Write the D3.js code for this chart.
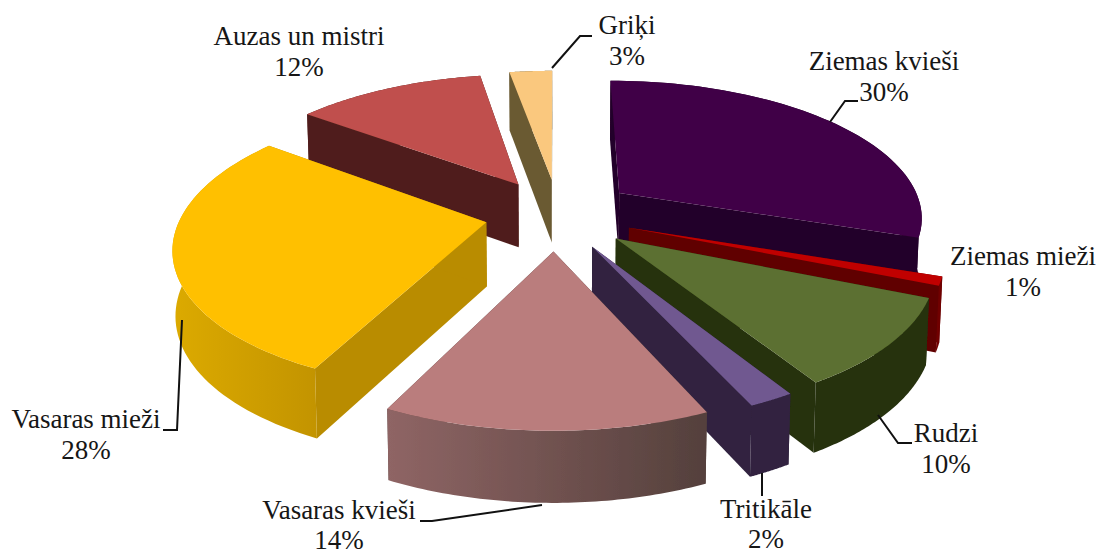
<!DOCTYPE html>
<html><head><meta charset="utf-8">
<script src="https://cdn.jsdelivr.net/npm/d3@7"></script>
<style>html,body{margin:0;padding:0;background:#fff}svg{display:block}</style>
</head><body><svg id="c" width="1097" height="555"></svg>
<script>
const categories=["Ziemas kvieši","Ziemas mieži","Rudzi","Tritikāle","Vasaras kvieši","Vasaras mieži","Auzas un mistri","Griķi"];
const percentLabels=[30,1,10,2,14,28,12,3];
const values=[30.3,1,10,2,14,28,12,2.7];
const explode=[83,78,78,77,78,70,80,82];
const explodeTurn=[-2,0,0,0,0,0,3,2.5];
const topColors=["#3f0046","#c00000","#5c7030","#705890","#ba7d7d","#ffc000","#c0504d","#fac87e"];
const wallColors=["#240029","#600000","#25300f","#30233f","#54403c","#b98c00","#501e1c","#6a5a33"];
const rimStart=["#240029","#700000","#25300f","#30233f","#8f6565","#dcaa00","#501e1c","#6a5a33"];
const rimEnd=["#240029","#700000","#25300f","#30233f","#54403c","#c39400","#501e1c","#6a5a33"];
const paintOrder=[7,6,0,5,1,2,3,4];
const labelPos=[[884,70],[1023,265],[946,442],[766,518],[339,519],[86,428],[299,45],[627,34]];
const lineGap=[31,31,31,30,30,31,31,31];
const leaders=[[[830,122],[845,101],[858,101]],[],[[878,415],[898,443],[912,443]],[[762,473],[762,496]],[[542,505],[432,521],[420,521]],[[182,320],[177,430],[163,430]],[],[[552,68],[580,36],[592,36]]];

const R=305,K=0.449,Q=0.00053,CX=555,CY=215,H=64;
const svg=d3.select("#c");
const defs=svg.append("defs");
defs.append("filter").attr("id","soft").append("feGaussianBlur").attr("stdDeviation",0.45);
const proj=(u,v)=>{const s=1/(1+Q*v);return [CX+u*s,CY-K*v*s,s];};
const down=p=>{const h=H*(0.5+0.5*p[2]);return [CX+(p[0]-CX)*0.992,p[1]+h];};
const line=d3.line();
const pie=d3.pie().sort(null).startAngle(0).endAngle(2*Math.PI)(values);
const g=svg.append("g").attr("filter","url(#soft)");

paintOrder.forEach(i=>{
  const a=pie[i],mid=(a.startAngle+a.endAngle)/2+explodeTurn[i]*Math.PI/180;
  const ou=explode[i]*Math.sin(mid),ov=explode[i]*Math.cos(mid);
  const apex=proj(ou,ov);
  const rim=d3.range(0,61).map(t=>{const th=a.startAngle+(a.endAngle-a.startAngle)*t/60;
    return proj(ou+R*Math.sin(th),ov+R*Math.cos(th));});
  const first=rim[0],last=rim[rim.length-1];
  [first,last].forEach(p=>{
    g.append("path").attr("d",line([apex,p,down(p),down(apex)].map(q=>q.slice(0,2)))+"Z").attr("fill",wallColors[i]);
  });
  const id="rim"+i,x0=d3.min(rim,p=>p[0]),x1=d3.max(rim,p=>p[0]);
  const gr=defs.append("linearGradient").attr("id",id).attr("gradientUnits","userSpaceOnUse")
    .attr("x1",x0).attr("x2",x1).attr("y1",0).attr("y2",0);
  gr.append("stop").attr("offset",0).attr("stop-color",rimStart[i]);
  gr.append("stop").attr("offset",1).attr("stop-color",rimEnd[i]);
  const poly=rim.map(p=>p.slice(0,2)).concat(rim.slice().reverse().map(down));
  g.append("path").attr("d",line(poly)+"Z").attr("fill",`url(#${id})`);
  g.append("path").attr("d",line([apex].concat(rim).map(q=>q.slice(0,2)))+"Z").attr("fill",topColors[i]);
});

const lg=svg.append("g");
leaders.forEach(l=>{ if(l.length) lg.append("path").attr("d",line(l)).attr("fill","none").attr("stroke","#111").attr("stroke-width",2);});
const tg=svg.append("g").attr("font-family","'Liberation Serif',serif").attr("font-size",27).attr("fill","#161616").attr("text-anchor","middle");
categories.forEach((c,i)=>{
  tg.append("text").attr("x",labelPos[i][0]).attr("y",labelPos[i][1]).text(c);
  tg.append("text").attr("x",labelPos[i][0]).attr("y",labelPos[i][1]+lineGap[i]).text(percentLabels[i]+"%");
});
</script></body></html>
